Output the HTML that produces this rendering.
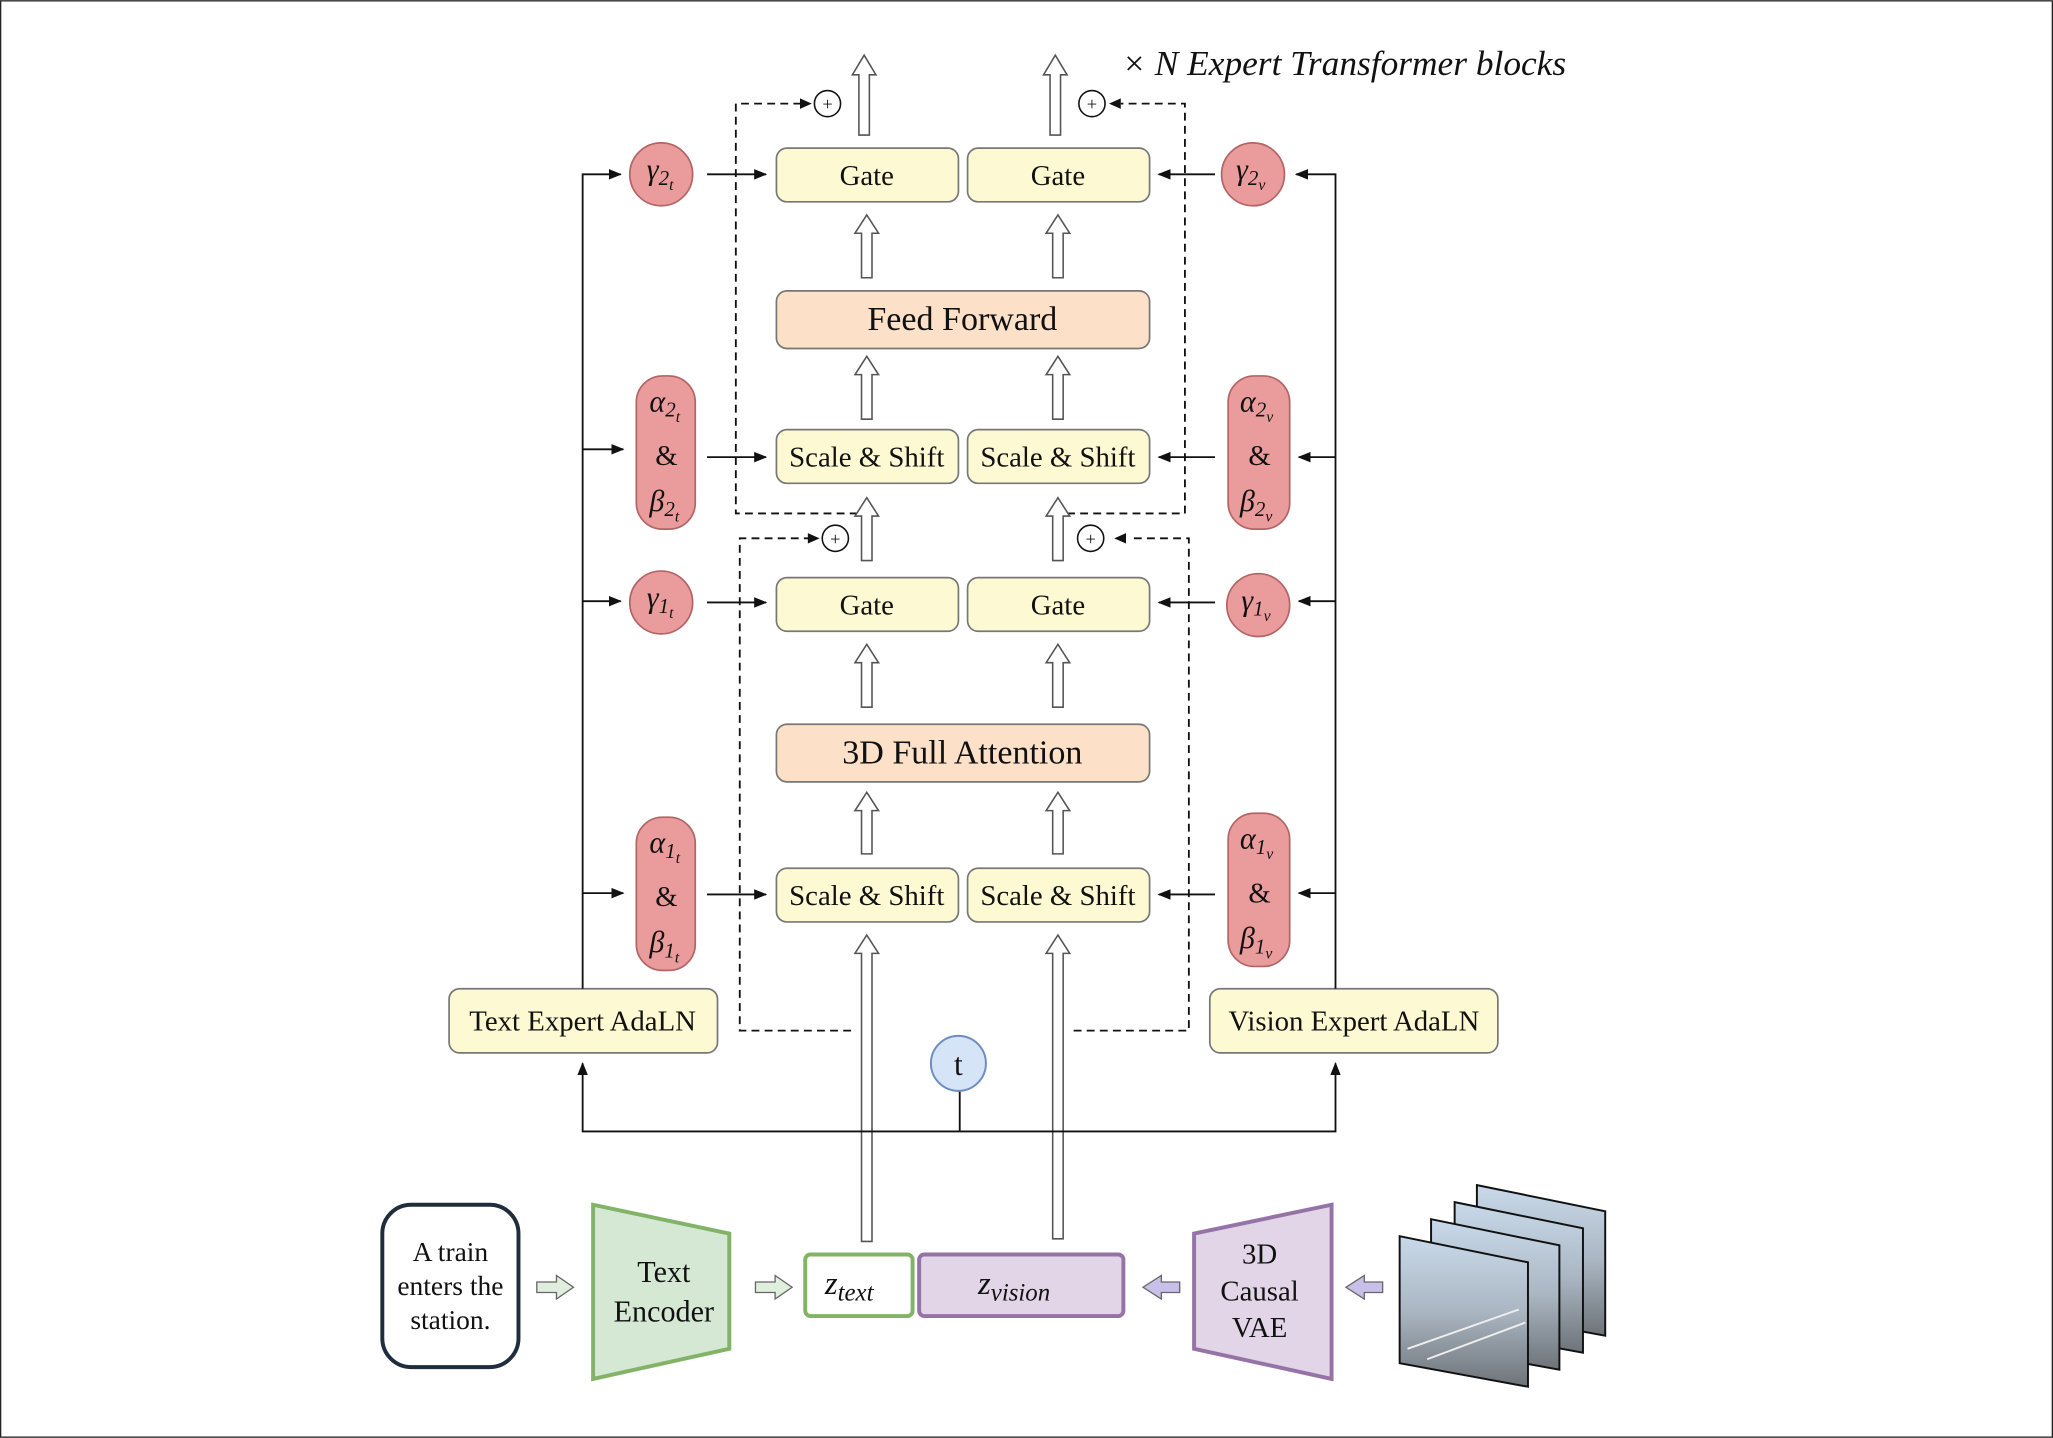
<!DOCTYPE html>
<html><head><meta charset="utf-8"><style>
html,body{margin:0;padding:0;background:#fff;}
svg{display:block;}
text{font-family:"Liberation Serif",serif;fill:#111;}
</style></head><body>
<svg width="2053" height="1438" viewBox="0 0 1568 1098" xmlns="http://www.w3.org/2000/svg">
<defs>
<marker id="ah" markerWidth="10" markerHeight="8" refX="9" refY="4" orient="auto" markerUnits="userSpaceOnUse"><path d="M0,0 L10,4 L0,8 z" fill="#111"/></marker>
<linearGradient id="sky" x1="0" y1="0" x2="0" y2="1"><stop offset="0" stop-color="#c9d9ea"/><stop offset="0.5" stop-color="#aab6c2"/><stop offset="1" stop-color="#6d7378"/></linearGradient>
</defs>
<rect x="0.5" y="0.5" width="1567" height="1097" fill="#fff" stroke="#222" stroke-width="1"/>

<text x="857" y="57" font-size="27" font-style="italic">× N Expert Transformer blocks</text>

<g fill="none" stroke="#111" stroke-width="1.4" stroke-dasharray="6,4">
<path d="M655,392 H562 V79 H612"/>
<path d="M815,392 H905 V79 H856"/>
<path d="M650,787 H565 V411 H618"/>
<path d="M820,787 H908 V411 H862"/>
</g>
<g fill="#111">
<path d="M620,79 l-9,-4 v8z"/><path d="M847,79 l9,-4 v8z"/>
<path d="M626,411 l-9,-4 v8z"/><path d="M851,411 l9,-4 v8z"/>
</g>
<g fill="#fff" stroke="#111" stroke-width="1.2">
<circle cx="632" cy="79" r="10"/><circle cx="834" cy="79" r="10"/>
<circle cx="638" cy="411" r="10"/><circle cx="833" cy="411" r="10"/>
</g>
<g font-size="14" text-anchor="middle" font-family="Liberation Sans,sans-serif">
<text x="632" y="84">+</text><text x="834" y="84">+</text><text x="638" y="416">+</text><text x="833" y="416">+</text>
</g>

<g fill="#fff" stroke="#555" stroke-width="1.2">
<path d="M656,103 V57 H651 L660,42 L669,57 H664 V103 Z"/>
<path d="M802,103 V57 H797 L806,42 L815,57 H810 V103 Z"/>
<path d="M658,212 V178 H653 L662,164 L671,178 H666 V212 Z"/>
<path d="M804,212 V178 H799 L808,164 L817,178 H812 V212 Z"/>
<path d="M658,320 V286 H653 L662,272 L671,286 H666 V320 Z"/>
<path d="M804,320 V286 H799 L808,272 L817,286 H812 V320 Z"/>
<path d="M658,428 V394 H653 L662,380 L671,394 H666 V428 Z"/>
<path d="M804,428 V394 H799 L808,380 L817,394 H812 V428 Z"/>
<path d="M658,540 V506 H653 L662,492 L671,506 H666 V540 Z"/>
<path d="M804,540 V506 H799 L808,492 L817,506 H812 V540 Z"/>
<path d="M658,652 V619 H653 L662,605 L671,619 H666 V652 Z"/>
<path d="M804,652 V619 H799 L808,605 L817,619 H812 V652 Z"/>
<path d="M658,948 V728 H653 L662,714 L671,728 H666 V948 Z"/>
<path d="M804,946 V728 H799 L808,714 L817,728 H812 V946 Z"/>
</g>

<g stroke="#777" stroke-width="1.3">
<rect x="593" y="113" width="139" height="41" rx="8" fill="#fdfad3"/>
<rect x="739" y="113" width="139" height="41" rx="8" fill="#fdfad3"/>
<rect x="593" y="222" width="285" height="44" rx="8" fill="#fde0c8"/>
<rect x="593" y="328" width="139" height="41" rx="8" fill="#fdfad3"/>
<rect x="739" y="328" width="139" height="41" rx="8" fill="#fdfad3"/>
<rect x="593" y="441" width="139" height="41" rx="8" fill="#fdfad3"/>
<rect x="739" y="441" width="139" height="41" rx="8" fill="#fdfad3"/>
<rect x="593" y="553" width="285" height="44" rx="8" fill="#fde0c8"/>
<rect x="593" y="663" width="139" height="41" rx="8" fill="#fdfad3"/>
<rect x="739" y="663" width="139" height="41" rx="8" fill="#fdfad3"/>
<rect x="343" y="755" width="205" height="49" rx="8" fill="#fdfad3"/>
<rect x="924" y="755" width="220" height="49" rx="8" fill="#fdfad3"/>
</g>
<g font-size="22" text-anchor="middle">
<text x="662" y="141">Gate</text><text x="808" y="141">Gate</text>
<text x="735" y="252" font-size="26">Feed Forward</text>
<text x="662" y="356">Scale &amp; Shift</text><text x="808" y="356">Scale &amp; Shift</text>
<text x="662" y="469">Gate</text><text x="808" y="469">Gate</text>
<text x="735" y="583" font-size="26">3D Full Attention</text>
<text x="662" y="691">Scale &amp; Shift</text><text x="808" y="691">Scale &amp; Shift</text>
<text x="445" y="787">Text Expert AdaLN</text>
<text x="1034" y="787">Vision Expert AdaLN</text>
</g>

<g fill="none" stroke="#111" stroke-width="1.4" marker-end="url(#ah)">
<path d="M445,755 V133 H474"/>
<path d="M445,343 H476"/><path d="M445,459 H474"/><path d="M445,682 H476"/>
<path d="M1020,755 V133 H990"/>
<path d="M1020,349 H992"/><path d="M1020,459 H992"/><path d="M1020,682 H992"/>
<path d="M540,133 H585"/><path d="M540,349 H585"/><path d="M540,460 H585"/><path d="M540,683 H585"/>
<path d="M928,133 H885"/><path d="M928,349 H885"/><path d="M928,460 H885"/><path d="M928,683 H885"/>
<path d="M733,864 H445 V812"/>
<path d="M733,864 H1020 V812"/>
</g>
<path d="M733,833 V864" stroke="#111" stroke-width="1.4"/>

<g fill="#ea9c9c" stroke="#b36565" stroke-width="1.3">
<circle cx="505" cy="133" r="24"/><circle cx="957" cy="133" r="24"/>
<circle cx="505" cy="460" r="24"/><circle cx="961" cy="462" r="24"/>
<rect x="486" y="287" width="45" height="117" rx="20"/>
<rect x="938" y="287" width="47" height="117" rx="20"/>
<rect x="486" y="624" width="45" height="117" rx="20"/>
<rect x="938" y="621" width="47" height="117" rx="20"/>
</g>
<g font-size="23" font-style="italic">
<text x="494" y="137">γ<tspan font-size="16" dy="4">2</tspan><tspan font-size="12" dy="4">t</tspan></text>
<text x="944" y="137">γ<tspan font-size="16" dy="4">2</tspan><tspan font-size="12" dy="4">v</tspan></text>
<text x="494" y="464">γ<tspan font-size="16" dy="4">1</tspan><tspan font-size="12" dy="4">t</tspan></text>
<text x="948" y="466">γ<tspan font-size="16" dy="4">1</tspan><tspan font-size="12" dy="4">v</tspan></text>
<text x="496" y="314">α<tspan font-size="16" dy="4">2</tspan><tspan font-size="12" dy="4">t</tspan></text>
<text x="496" y="390">β<tspan font-size="16" dy="4">2</tspan><tspan font-size="12" dy="4">t</tspan></text>
<text x="947" y="314">α<tspan font-size="16" dy="4">2</tspan><tspan font-size="12" dy="4">v</tspan></text>
<text x="947" y="390">β<tspan font-size="16" dy="4">2</tspan><tspan font-size="12" dy="4">v</tspan></text>
<text x="496" y="651">α<tspan font-size="16" dy="4">1</tspan><tspan font-size="12" dy="4">t</tspan></text>
<text x="496" y="727">β<tspan font-size="16" dy="4">1</tspan><tspan font-size="12" dy="4">t</tspan></text>
<text x="947" y="648">α<tspan font-size="16" dy="4">1</tspan><tspan font-size="12" dy="4">v</tspan></text>
<text x="947" y="724">β<tspan font-size="16" dy="4">1</tspan><tspan font-size="12" dy="4">v</tspan></text>
</g>
<g font-size="22" text-anchor="middle">
<text x="509" y="355">&amp;</text><text x="962" y="355">&amp;</text>
<text x="509" y="692">&amp;</text><text x="962" y="689">&amp;</text>
</g>

<circle cx="732" cy="812" r="21" fill="#d6e4f8" stroke="#6c8ebf" stroke-width="1.5"/>
<text x="732" y="821" font-size="24" text-anchor="middle" font-family="Liberation Sans,sans-serif">t</text>

<rect x="292" y="920" width="104" height="124" rx="22" fill="#fff" stroke="#1f2d3d" stroke-width="3"/>
<g font-size="21" text-anchor="middle">
<text x="344" y="963">A train</text><text x="344" y="989">enters the</text><text x="344" y="1015">station.</text>
</g>
<path d="M410,979 H425 V974 L438,983 L425,992 V987 H410 Z" fill="#dfeedd" stroke="#666" stroke-width="1"/>
<path d="M453,920 L557,942 L557,1030 L453,1053 Z" fill="#d5e8d4" stroke="#82b366" stroke-width="3"/>
<text x="507" y="979" font-size="23" text-anchor="middle">Text</text>
<text x="507" y="1009" font-size="23" text-anchor="middle">Encoder</text>
<path d="M577,979 H592 V974 L605,983 L592,992 V987 H577 Z" fill="#dfeedd" stroke="#666" stroke-width="1"/>
<rect x="615" y="958" width="82" height="47" rx="4" fill="#fff" stroke="#82b366" stroke-width="3"/>
<rect x="702" y="958" width="156" height="47" rx="4" fill="#e1d5e7" stroke="#9673a6" stroke-width="3"/>
<text x="630" y="988" font-size="25" font-style="italic">z<tspan font-size="19" dy="5">text</tspan></text>
<text x="747" y="988" font-size="25" font-style="italic">z<tspan font-size="19" dy="5">vision</tspan></text>
<path d="M901,979 H887 V974 L873,983 L887,992 V987 H901 Z" fill="#c9c0ea" stroke="#666" stroke-width="1"/>
<path d="M912,942 L1017,920 L1017,1053 L912,1030 Z" fill="#e1d5e7" stroke="#9673a6" stroke-width="3"/>
<g font-size="22" text-anchor="middle">
<text x="962" y="965">3D</text><text x="962" y="993">Causal</text><text x="962" y="1021">VAE</text>
</g>
<path d="M1056,979 H1042 V974 L1028,983 L1042,992 V987 H1056 Z" fill="#c9c0ea" stroke="#666" stroke-width="1"/>

<g stroke="#111" stroke-width="1.5" fill="url(#sky)">
<path d="M1128,905 L1226,925 L1226,1020 L1128,1002 Z"/>
<path d="M1111,918 L1209,938 L1209,1033 L1111,1015 Z"/>
<path d="M1093,931 L1191,951 L1191,1046 L1093,1028 Z"/>
<path d="M1069,944 L1167,964 L1167,1059 L1069,1041 Z"/>
</g>
<g stroke="#eee" stroke-width="1.5" fill="none">
<path d="M1075,1030 L1160,1000"/><path d="M1090,1038 L1165,1010"/>
</g>
</svg>
</body></html>
